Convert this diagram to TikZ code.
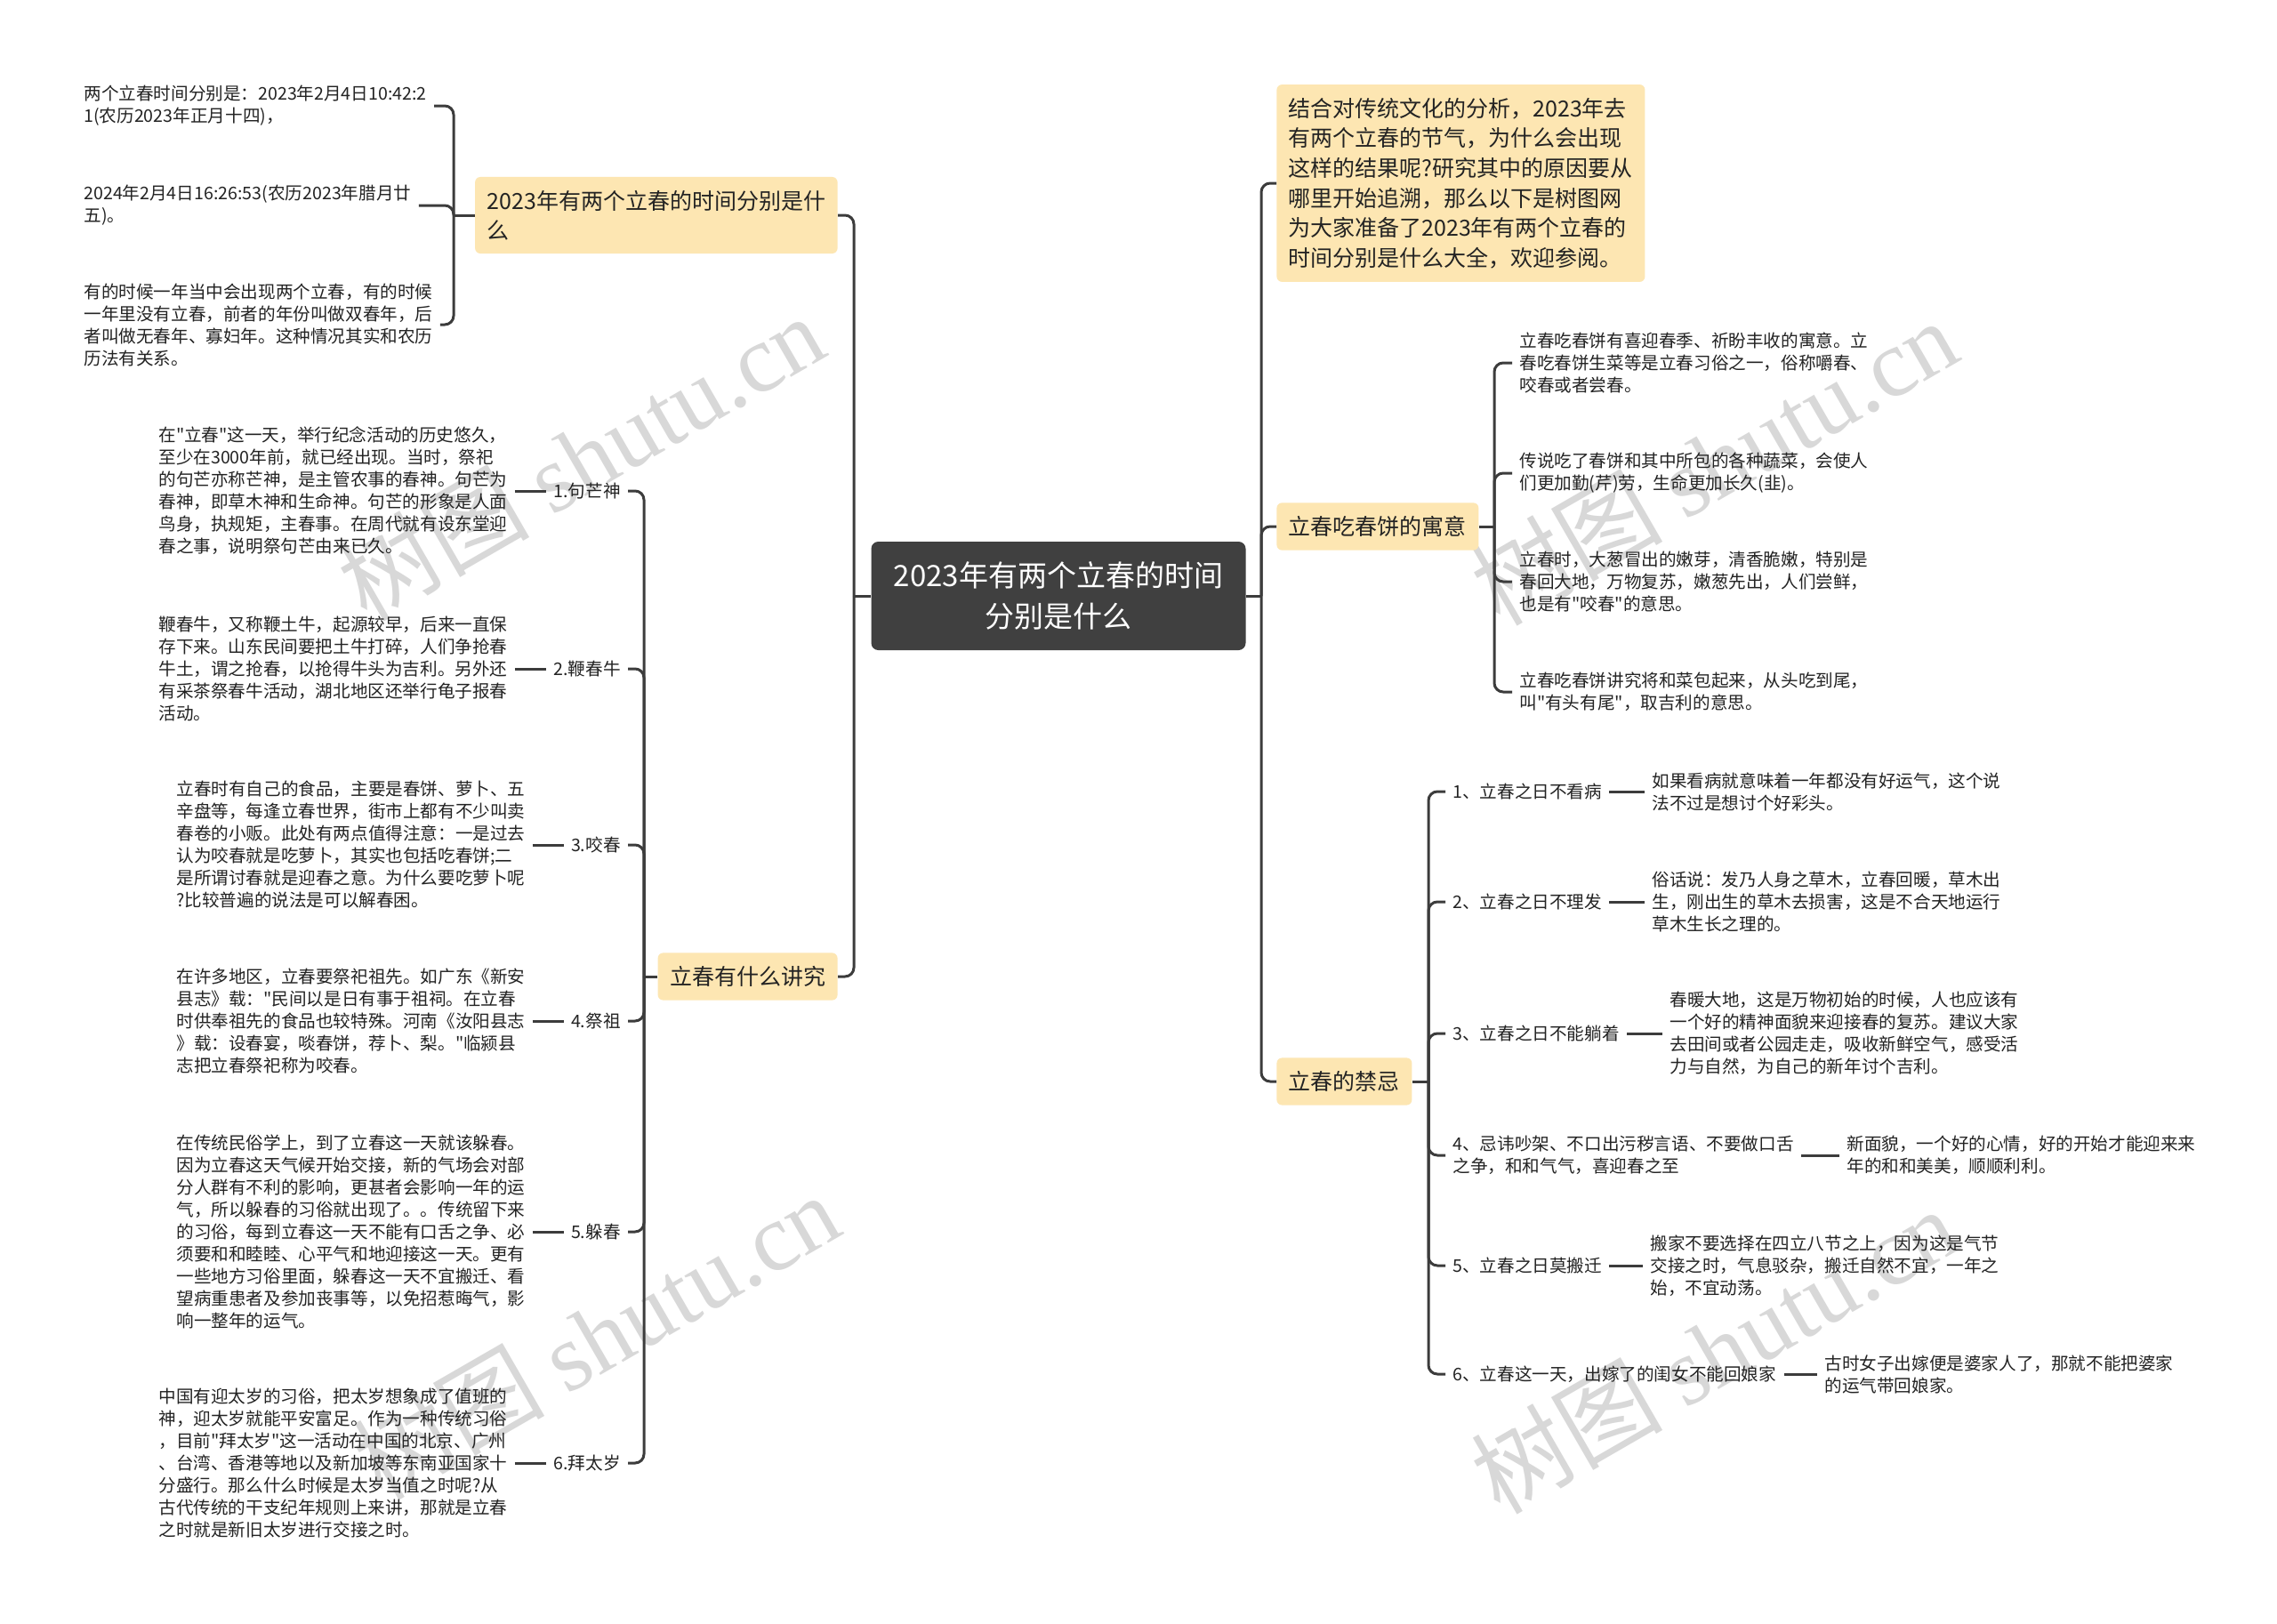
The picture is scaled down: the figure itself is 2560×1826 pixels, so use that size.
\documentclass[tikz,border=0pt]{standalone}
\usepackage{fontspec}
\newfontfamily\cjk{Noto Sans CJK SC}
\newfontfamily\wmserif{Liberation Serif}
\definecolor{linec}{RGB}{60,60,60}
\definecolor{topicc}{RGB}{253,230,178}
\definecolor{rootc}{RGB}{64,64,64}
\definecolor{textc}{RGB}{35,35,35}
\definecolor{wmc}{RGB}{216,216,216}
\tikzset{
  conn/.style={draw=linec, line width=1.5pt, rounded corners=5pt},
  rootbox/.style={fill=rootc, rounded corners=4pt, text=white, align=center,
    font=\cjk\fontsize{16.5pt}{23pt}\selectfont, minimum width=210.5pt, minimum height=61pt},
  topic/.style={fill=topicc, rounded corners=3pt, text=textc, align=left,
    font=\cjk\fontsize{12.5pt}{16.6pt}\selectfont, inner xsep=6.75pt, inner ysep=7.5pt},
  small/.style={text=textc, align=left, font=\cjk\fontsize{9.8pt}{12.5pt}\selectfont,
    inner xsep=4pt, inner ysep=3pt},
  wm/.style={text=wmc, rotate=30, font=\cjk\fontsize{54pt}{60pt}\selectfont}
}
\begin{document}
\begin{tikzpicture}[x=0.5pt,y=-0.5pt]
\useasboundingbox (0,0) rectangle (2560,1826);
\fill[white] (0,0) rectangle (2560,1826);

% watermarks
\node[wm] (wm1) at (653,514) {树图 {\wmserif shutu.cn}};
\node[wm] (wm2) at (1927,519) {树图 {\wmserif shutu.cn}};
\node[wm] (wm3) at (670,1502) {树图 {\wmserif shutu.cn}};
\node[wm] (wm4) at (1927,1518) {树图 {\wmserif shutu.cn}};

% root and main topics
\node[rootbox] (root) at (1190,670) {2023年有两个立春的时间\\分别是什么};
\node[topic, anchor=east] (a) at (942,242) {2023年有两个立春的时间分别是什\\么};
\node[topic, anchor=east] (b) at (942,1098) {立春有什么讲究};
\node[topic, anchor=west, text width=194pt, inner xsep=6.5pt, font=\cjk\fontsize{12.5pt}{16.8pt}\selectfont] (c) at (1435,206) {结合对传统文化的分析，2023年去\\有两个立春的节气，为什么会出现\\这样的结果呢?研究其中的原因要从\\哪里开始追溯，那么以下是树图网\\为大家准备了2023年有两个立春的\\时间分别是什么大全，欢迎参阅。};
\node[topic, anchor=west] (d) at (1435,592) {立春吃春饼的寓意};
\node[topic, anchor=west] (e) at (1435,1216) {立春的禁忌};

\coordinate (lj) at (960,670);
\coordinate (rj) at (1418,670);
\draw[conn] (root.west) -- (lj);
\draw[conn] (lj) |- (a.east);
\draw[conn] (lj) |- (b.east);
\draw[conn] (root.east) -- (rj);
\draw[conn] (rj) |- (c.west);
\draw[conn] (rj) |- (d.west);
\draw[conn] (rj) |- (e.west);

% A children
\node[small, anchor=west] (a1) at (86,119) {两个立春时间分别是：2023年2月4日10:42:2\\1(农历2023年正月十四)，};
\node[small, anchor=west] (a2) at (86,231) {2024年2月4日16:26:53(农历2023年腊月廿\\五)。};
\node[small, anchor=west] (a3) at (86,365) {有的时候一年当中会出现两个立春，有的时候\\一年里没有立春，前者的年份叫做双春年，后\\者叫做无春年、寡妇年。这种情况其实和农历\\历法有关系。};
\coordinate (aj) at (510,242);
\draw[conn] (a.west) -- (aj);
\draw[conn] (aj) |- (a1.east);
\draw[conn] (aj) |- (a2.east);
\draw[conn] (aj) |- (a3.east);

% B children
\node[small, anchor=east] (l1) at (706,552) {1.句芒神};
\node[small, anchor=east] (l2) at (706,752) {2.鞭春牛};
\node[small, anchor=east] (l3) at (706,950) {3.咬春};
\node[small, anchor=east] (l4) at (706,1148) {4.祭祖};
\node[small, anchor=east] (l5) at (706,1385) {5.躲春};
\node[small, anchor=east] (l6) at (706,1645) {6.拜太岁};
\coordinate (bj) at (724,1098);
\draw[conn] (b.west) -- (bj);
\foreach \n in {l1,l2,l3,l4,l5,l6} { \draw[conn] (bj) |- (\n.east); }

\node[small, anchor=west] (t1) at (170,552) {在"立春"这一天，举行纪念活动的历史悠久，\\至少在3000年前，就已经出现。当时，祭祀\\的句芒亦称芒神，是主管农事的春神。句芒为\\春神，即草木神和生命神。句芒的形象是人面\\鸟身，执规矩，主春事。在周代就有设东堂迎\\春之事，说明祭句芒由来已久。};
\node[small, anchor=west] (t2) at (170,752) {鞭春牛，又称鞭土牛，起源较早，后来一直保\\存下来。山东民间要把土牛打碎，人们争抢春\\牛土，谓之抢春，以抢得牛头为吉利。另外还\\有采茶祭春牛活动，湖北地区还举行龟子报春\\活动。};
\node[small, anchor=west] (t3) at (190,950) {立春时有自己的食品，主要是春饼、萝卜、五\\辛盘等，每逢立春世界，街市上都有不少叫卖\\春卷的小贩。此处有两点值得注意：一是过去\\认为咬春就是吃萝卜，其实也包括吃春饼;二\\是所谓讨春就是迎春之意。为什么要吃萝卜呢\\?比较普遍的说法是可以解春困。};
\node[small, anchor=west] (t4) at (190,1148) {在许多地区，立春要祭祀祖先。如广东《新安\\县志》载："民间以是日有事于祖祠。在立春\\时供奉祖先的食品也较特殊。河南《汝阳县志\\》载：设春宴，啖春饼，荐卜、梨。"临颍县\\志把立春祭祀称为咬春。};
\node[small, anchor=west] (t5) at (190,1385) {在传统民俗学上，到了立春这一天就该躲春。\\因为立春这天气候开始交接，新的气场会对部\\分人群有不利的影响，更甚者会影响一年的运\\气，所以躲春的习俗就出现了。。传统留下来\\的习俗，每到立春这一天不能有口舌之争、必\\须要和和睦睦、心平气和地迎接这一天。更有\\一些地方习俗里面，躲春这一天不宜搬迁、看\\望病重患者及参加丧事等，以免招惹晦气，影\\响一整年的运气。};
\node[small, anchor=west] (t6) at (170,1645) {中国有迎太岁的习俗，把太岁想象成了值班的\\神，迎太岁就能平安富足。作为一种传统习俗\\，目前"拜太岁"这一活动在中国的北京、广州\\、台湾、香港等地以及新加坡等东南亚国家十\\分盛行。那么什么时候是太岁当值之时呢?从\\古代传统的干支纪年规则上来讲，那就是立春\\之时就是新旧太岁进行交接之时。};
\draw[conn] (t1.east) -- (l1.west);
\draw[conn] (t2.east) -- (l2.west);
\draw[conn] (t3.east) -- (l3.west);
\draw[conn] (t4.east) -- (l4.west);
\draw[conn] (t5.east) -- (l5.west);
\draw[conn] (t6.east) -- (l6.west);

% D children
\node[small, anchor=west] (d1) at (1700,408) {立春吃春饼有喜迎春季、祈盼丰收的寓意。立\\春吃春饼生菜等是立春习俗之一，俗称嚼春、\\咬春或者尝春。};
\node[small, anchor=west] (d2) at (1700,532) {传说吃了春饼和其中所包的各种蔬菜，会使人\\们更加勤(芹)劳，生命更加长久(韭)。};
\node[small, anchor=west] (d3) at (1700,654) {立春时，大葱冒出的嫩芽，清香脆嫩，特别是\\春回大地，万物复苏，嫩葱先出，人们尝鲜，\\也是有"咬春"的意思。};
\node[small, anchor=west] (d4) at (1700,778) {立春吃春饼讲究将和菜包起来，从头吃到尾，\\叫"有头有尾"，取吉利的意思。};
\coordinate (dj) at (1680,592);
\draw[conn] (d.east) -- (dj);
\foreach \n in {d1,d2,d3,d4} { \draw[conn] (dj) |- (\n.west); }

% E children
\node[small, anchor=west] (e1) at (1625,890) {1、立春之日不看病};
\node[small, anchor=west] (e2) at (1625,1014) {2、立春之日不理发};
\node[small, anchor=west] (e3) at (1625,1162) {3、立春之日不能躺着};
\node[small, anchor=west] (e4) at (1625,1299) {4、忌讳吵架、不口出污秽言语、不要做口舌\\之争，和和气气，喜迎春之至};
\node[small, anchor=west] (e5) at (1625,1423) {5、立春之日莫搬迁};
\node[small, anchor=west] (e6) at (1625,1545) {6、立春这一天，出嫁了的闺女不能回娘家};
\coordinate (ej) at (1606,1216);
\draw[conn] (e.east) -- (ej);
\foreach \n in {e1,e2,e3,e4,e5,e6} { \draw[conn] (ej) |- (\n.west); }

\node[small, anchor=west] (e1t) at (1849,890) {如果看病就意味着一年都没有好运气，这个说\\法不过是想讨个好彩头。};
\node[small, anchor=west] (e2t) at (1849,1014) {俗话说：发乃人身之草木，立春回暖，草木出\\生，刚出生的草木去损害，这是不合天地运行\\草木生长之理的。};
\node[small, anchor=west] (e3t) at (1869,1162) {春暖大地，这是万物初始的时候，人也应该有\\一个好的精神面貌来迎接春的复苏。建议大家\\去田间或者公园走走，吸收新鲜空气，感受活\\力与自然，为自己的新年讨个吉利。};
\node[small, anchor=west] (e4t) at (2068,1299) {新面貌，一个好的心情，好的开始才能迎来来\\年的和和美美，顺顺利利。};
\node[small, anchor=west] (e5t) at (1847,1423) {搬家不要选择在四立八节之上，因为这是气节\\交接之时，气息驳杂，搬迁自然不宜，一年之\\始，不宜动荡。};
\node[small, anchor=west] (e6t) at (2043,1545) {古时女子出嫁便是婆家人了，那就不能把婆家\\的运气带回娘家。};
\draw[conn] (e1.east) -- (e1t.west);
\draw[conn] (e2.east) -- (e2t.west);
\draw[conn] (e3.east) -- (e3t.west);
\draw[conn] (e4.east) -- (e4t.west);
\draw[conn] (e5.east) -- (e5t.west);
\draw[conn] (e6.east) -- (e6t.west);
\end{tikzpicture}
\end{document}
